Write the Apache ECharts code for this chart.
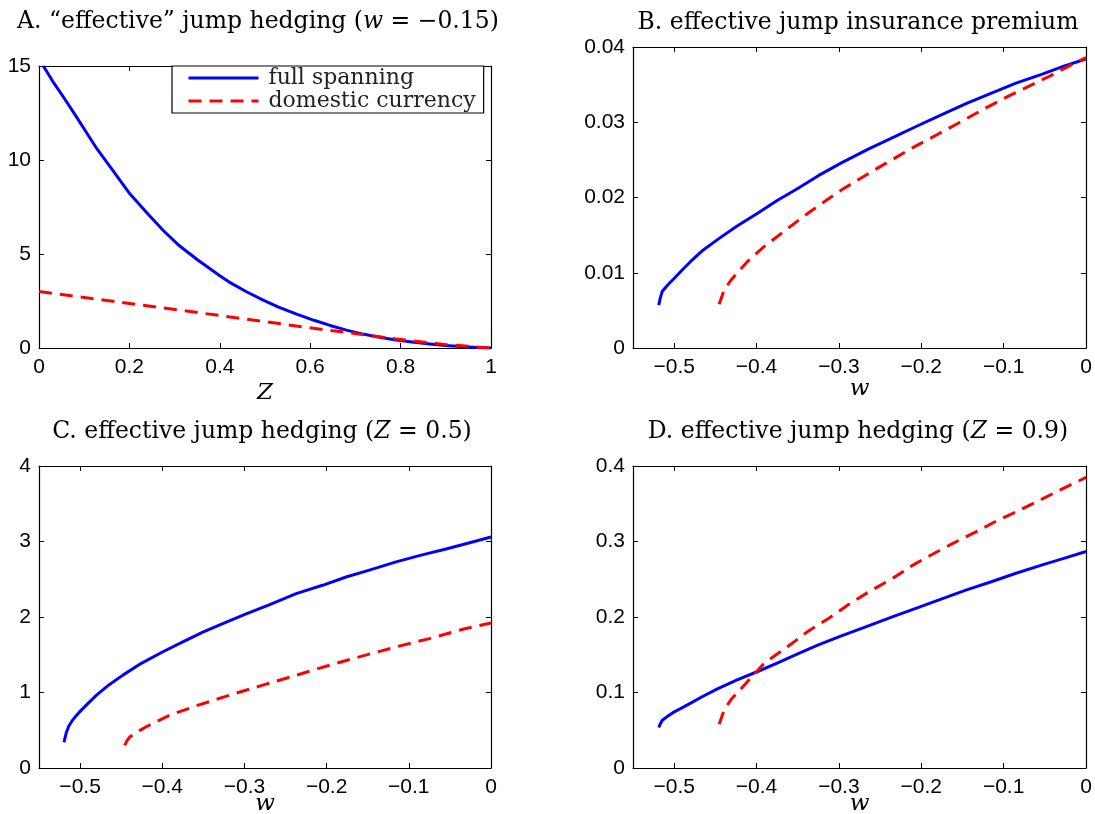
<!DOCTYPE html>
<html>
<head>
<meta charset="utf-8">
<script src="https://cdn.jsdelivr.net/npm/echarts@6/dist/echarts.min.js"></script>
<style>html,body{margin:0;padding:0;background:#fff}#c{width:1095px;height:814px}</style>
</head>
<body>
<div id="c"></div>
<script>
// ---- Panel A: effective jump hedging vs Z (w = -0.15)
const aZFull = [0.0096, 0.03, 0.054, 0.08, 0.10, 0.128, 0.16, 0.201, 0.24, 0.275, 0.31, 0.349, 0.40, 0.42, 0.46, 0.496, 0.53, 0.57, 0.61, 0.644, 0.68, 0.717, 0.75, 0.79, 0.83, 0.865, 0.90, 0.94, 0.97, 1.0];
const aFull  = [15.0, 14.2, 13.35, 12.4, 11.65, 10.6, 9.55, 8.2, 7.15, 6.25, 5.45, 4.72, 3.84, 3.52, 2.98, 2.55, 2.17, 1.80, 1.46, 1.20, 0.95, 0.74, 0.58, 0.42, 0.30, 0.21, 0.13, 0.07, 0.03, 0.0];
const aZDom  = [0.0, 0.2, 0.393, 0.592, 0.688, 0.79, 0.90, 1.0];
const aDom   = [3.0, 2.37, 1.75, 1.10, 0.80, 0.48, 0.18, 0.0];

// ---- Panel B: effective jump insurance premium vs w
const bWFull = [-0.5187, -0.517, -0.5146, -0.510, -0.505, -0.5004, -0.49, -0.48, -0.465, -0.4475, -0.425, -0.3987, -0.375, -0.350, -0.325, -0.297, -0.265, -0.236, -0.205, -0.175, -0.145, -0.114, -0.085, -0.053, -0.026, 0.0];
const bFull  = [0.0057, 0.0066, 0.0075, 0.0081, 0.0087, 0.0092, 0.0104, 0.0115, 0.0130, 0.0144, 0.0161, 0.0179, 0.0196, 0.0212, 0.0229, 0.0246, 0.0264, 0.0279, 0.0295, 0.0310, 0.0325, 0.0339, 0.0352, 0.0364, 0.0375, 0.0384];
const bWDom  = [-0.4454, -0.4393, -0.4312, -0.421, -0.4109, -0.3905, -0.362, -0.3376, -0.317, -0.297, -0.2563, -0.2074, -0.18, -0.1546, -0.125, -0.0935, -0.0447, -0.022, 0.0];
const bDom   = [0.0058, 0.0077, 0.0090, 0.0103, 0.0115, 0.0135, 0.0159, 0.0179, 0.0195, 0.0210, 0.0237, 0.0268, 0.0284, 0.0299, 0.0317, 0.0335, 0.0361, 0.0374, 0.0386];

// ---- Panel C: effective jump hedging vs w (Z = 0.5)
const cWFull = [-0.5196, -0.517, -0.514, -0.51, -0.505, -0.50, -0.49, -0.48, -0.465, -0.4479, -0.425, -0.3992, -0.375, -0.3506, -0.325, -0.2979, -0.27, -0.2371, -0.205, -0.1763, -0.145, -0.1155, -0.085, -0.0547, -0.027, 0.0];
const cFull  = [0.34, 0.46, 0.55, 0.62, 0.69, 0.75, 0.86, 0.965, 1.10, 1.23, 1.39, 1.54, 1.67, 1.80, 1.92, 2.04, 2.16, 2.31, 2.42, 2.53, 2.63, 2.73, 2.82, 2.90, 2.98, 3.06];
const cWDom  = [-0.4458, -0.443, -0.4397, -0.43, -0.4195, -0.405, -0.3911, -0.3587, -0.3181, -0.2776, -0.2371, -0.1965, -0.156, -0.1155, -0.0749, -0.0344, 0.0];
const cDom   = [0.30, 0.36, 0.41, 0.48, 0.546, 0.625, 0.70, 0.824, 0.965, 1.097, 1.229, 1.361, 1.485, 1.604, 1.714, 1.837, 1.921];

// ---- Panel D: effective jump hedging vs w (Z = 0.9)
const dWFull = [-0.5187, -0.517, -0.5146, -0.5075, -0.5004, -0.49, -0.480, -0.465, -0.4475, -0.425, -0.3987, -0.375, -0.350, -0.325, -0.297, -0.265, -0.236, -0.205, -0.175, -0.145, -0.114, -0.085, -0.053, -0.026, 0.0];
const dFull  = [0.0536, 0.058, 0.0629, 0.069, 0.0740, 0.080, 0.0859, 0.095, 0.1049, 0.116, 0.1278, 0.139, 0.1512, 0.163, 0.1751, 0.188, 0.1998, 0.212, 0.2241, 0.236, 0.2470, 0.258, 0.2691, 0.278, 0.2868];
const dWDom  = [-0.4454, -0.4393, -0.4312, -0.4109, -0.3905, -0.362, -0.337, -0.3132, -0.2888, -0.2624, -0.2351, -0.2107, -0.1892, -0.1627, -0.1342, -0.1078, -0.0813, -0.0529, -0.0244, 0.0];
const dDom   = [0.058, 0.0770, 0.0903, 0.1146, 0.1389, 0.1610, 0.1814, 0.1976, 0.2161, 0.2342, 0.2508, 0.2684, 0.2815, 0.2969, 0.3124, 0.3278, 0.3411, 0.3565, 0.3720, 0.3848];

const SERIES_NAMES = ['full spanning', 'domestic currency'];
const TITLES = [
  'A. \u201ceffective\u201d jump hedging ({i|w} = \u22120.15)',
  'B. effective jump insurance premium',
  'C. effective jump hedging ({i|Z} = 0.5)',
  'D. effective jump hedging ({i|Z} = 0.9)'
];
const XNAMES = ['Z', 'w', 'w', 'w'];

const pair = (xs, ys) => xs.map((x, i) => [x, ys[i]]);
const SANS = 'Liberation Sans, Arial, sans-serif';
const SERIF = 'DejaVu Serif, serif';

function fmt(v) {
  const r = parseFloat(v.toFixed(4));
  if (r === 0) return '0';
  return r < 0 ? '\u2212' + String(-r) : String(r);
}

const grids = [
  {left: 39, top: 66, width: 452, height: 282, outerBoundsMode: 'none', containLabel: false},
  {left: 633, top: 47, width: 453, height: 301, outerBoundsMode: 'none', containLabel: false},
  {left: 39, top: 466, width: 452, height: 302, outerBoundsMode: 'none', containLabel: false},
  {left: 633, top: 466, width: 453, height: 302, outerBoundsMode: 'none', containLabel: false}
];
const xr = [
  {min: 0, max: 1, interval: 0.2},
  {min: -0.55, max: 0, splitNumber: 5},
  {min: -0.55, max: 0, splitNumber: 5},
  {min: -0.55, max: 0, splitNumber: 5}
];
const yr = [
  {min: 0, max: 15, interval: 5},
  {min: 0, max: 0.04, interval: 0.01},
  {min: 0, max: 4, interval: 1},
  {min: 0, max: 0.4, interval: 0.1}
];
const nameGaps = [34, 30, 25, 25];

const axisLine = {show: true, onZero: false, lineStyle: {color: '#000', width: 1.2}};
const axisTick = {show: true, inside: true, length: 5, lineStyle: {color: '#000', width: 1}};

const xAxis = [], yAxis = [];
grids.forEach((g, i) => {
  xAxis.push(Object.assign({
    type: 'value', gridIndex: i, position: 'bottom',
    axisLine, axisTick, splitLine: {show: false},
    axisLabel: {show: true, color: '#000', fontFamily: SANS, fontSize: 21, margin: 9,
      formatter: fmt, showMinLabel: i === 0, showMaxLabel: true},
    name: XNAMES[i], nameLocation: 'middle', nameGap: nameGaps[i], nameMoveOverlap: false,
    nameTextStyle: {fontFamily: SERIF, fontStyle: 'italic', fontSize: 23, color: '#000'}
  }, xr[i]));
  xAxis.push(Object.assign({
    type: 'value', gridIndex: i, position: 'top',
    axisLine, axisTick, splitLine: {show: false}, axisLabel: {show: false}
  }, xr[i]));
  yAxis.push(Object.assign({
    type: 'value', gridIndex: i, position: 'left',
    axisLine, axisTick, splitLine: {show: false},
    axisLabel: {show: true, color: '#000', fontFamily: SANS, fontSize: 21, margin: 8, formatter: fmt}
  }, yr[i]));
  yAxis.push(Object.assign({
    type: 'value', gridIndex: i, position: 'right',
    axisLine, axisTick, splitLine: {show: false}, axisLabel: {show: false}
  }, yr[i]));
});

const panelData = [
  [pair(aZFull, aFull), pair(aZDom, aDom)],
  [pair(bWFull, bFull), pair(bWDom, bDom)],
  [pair(cWFull, cFull), pair(cWDom, cDom)],
  [pair(dWFull, dFull), pair(dWDom, dDom)]
];

const series = [];
panelData.forEach((pd, i) => {
  series.push({
    name: SERIES_NAMES[0], type: 'line', xAxisIndex: 2 * i, yAxisIndex: 2 * i,
    data: pd[0], symbol: 'none', smooth: false,
    lineStyle: {color: '#0000ff', width: 3, type: 'solid', join: 'round'}, itemStyle: {color: '#0000ff'}
  });
  series.push({
    name: SERIES_NAMES[1], type: 'line', xAxisIndex: 2 * i, yAxisIndex: 2 * i,
    data: pd[1], symbol: 'none', smooth: false,
    lineStyle: {color: '#ff0000', width: 3, type: [13, 8], join: 'round'}, itemStyle: {color: '#ff0000'}
  });
});

const titleCenters = [[258, 22], [858, 23], [262, 432], [858, 432]];
const graphic = TITLES.map((t, i) => ({
  type: 'text', x: titleCenters[i][0], y: titleCenters[i][1], z: 10,
  style: {
    text: t, fill: '#000', align: 'center', verticalAlign: 'middle',
    fontFamily: SERIF, fontSize: 23.5,
    rich: {i: {fontFamily: SERIF, fontStyle: 'italic', fontSize: 23.5, fill: '#000'}}
  }
}));

const chart = echarts.init(document.getElementById('c'), null, {renderer: 'canvas'});
chart.setOption({
  animation: false,
  backgroundColor: '#fff',
  grid: grids,
  xAxis, yAxis, series, graphic,
  legend: {
    data: SERIES_NAMES, left: 172, top: 66, orient: 'vertical',
    itemWidth: 70, itemHeight: 16, itemGap: 1,
    padding: [1, 8, 1, 15],
    borderColor: '#000', borderWidth: 1.2, backgroundColor: '#fff',
    itemStyle: {opacity: 0, color: 'rgba(0,0,0,0)', borderWidth: 0},
    lineStyle: {width: 3},
    textStyle: {fontFamily: SERIF, fontSize: 22, lineHeight: 22, color: '#222', padding: [0, 0, 0, 5]}
  }
});
</script>
</body>
</html>
